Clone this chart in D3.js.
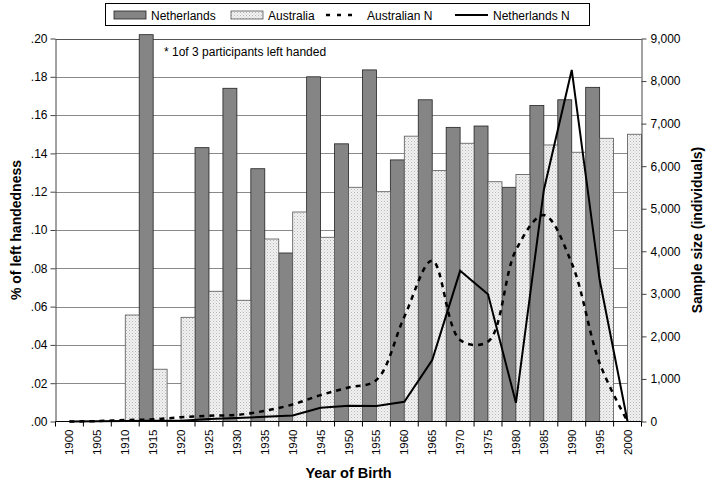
<!DOCTYPE html>
<html>
<head>
<meta charset="utf-8">
<script src="https://cdn.jsdelivr.net/npm/d3@7"></script>
<style>
  html, body { margin: 0; padding: 0; background: #fff; }
  svg { display: block; font-family: Arial, "Liberation Sans", sans-serif; }
</style>
</head>
<body>
<svg id="chart" width="712" height="485"></svg>
<script>
const years = [1900,1905,1910,1915,1920,1925,1930,1935,1940,1945,1950,1955,1960,1965,1970,1975,1980,1985,1990,1995,2000];
const netherlandsPct = [0,0,0,0.202,0,0.143,0.174,0.132,0.088,0.180,0.145,0.1836,0.1366,0.168,0.1536,0.1543,0.1223,0.165,0.168,0.1745,0];
const australiaPct = [0,0,0.0556,0.0273,0.0544,0.068,0.0633,0.0953,0.1094,0.0962,0.1223,0.120,0.149,0.131,0.1453,0.1252,0.129,0.1444,0.1406,0.1479,0.150];
const australianN = [0,10,35,50,100,136,155,250,400,620,800,975,2460,3780,1915,1880,4030,4850,3720,1370,0];
const netherlandsN = [0,5,10,15,20,60,80,110,140,325,370,365,465,1445,3540,2990,440,5440,8260,3330,0];
const leftTicks = [0,0.02,0.04,0.06,0.08,0.10,0.12,0.14,0.16,0.18,0.20];
const rightTicks = [0,1000,2000,3000,4000,5000,6000,7000,8000,9000];
const seriesNames = ["Netherlands","Australia","Australian N","Netherlands N"];
const note = "* 1of 3 participants left handed";

const svg = d3.select("#chart");
const L = 55.5, R = 641.5, T = 38.5, B = 421.5;

const defs = svg.append("defs");
const pat = defs.append("pattern").attr("id","dots").attr("patternUnits","userSpaceOnUse")
  .attr("width",3).attr("height",3);
pat.append("rect").attr("width",3).attr("height",3).attr("fill","#f1f1f1");
pat.append("rect").attr("x",0).attr("y",0).attr("width",1).attr("height",1).attr("fill","#b8b8b8");
pat.append("rect").attr("x",1.5).attr("y",1.5).attr("width",1).attr("height",1).attr("fill","#cfcfcf");

const x = d3.scaleBand().domain(years).range([L,R]).padding(0);
const bw = x.bandwidth();
const yL = d3.scaleLinear().domain([0,0.2]).range([B,T]);
const yR = d3.scaleLinear().domain([0,9000]).range([B,T]);

// gridlines
svg.append("g").selectAll("line").data(leftTicks.filter(d=>d>0)).join("line")
  .attr("x1",L).attr("x2",R)
  .attr("y1",d=>Math.round(yL(d))+0.5).attr("y2",d=>Math.round(yL(d))+0.5)
  .attr("stroke",d=>d===0.2?"#555":"#8a8a8a").attr("stroke-width",1);

// bars
const data = years.map((y,i)=>({year:y,nl:netherlandsPct[i],au:australiaPct[i]}));
svg.append("g").selectAll("rect").data(data.filter(d=>d.nl>0)).join("rect")
  .attr("x",d=>x(d.year)).attr("width",bw/2)
  .attr("y",d=>yL(d.nl)).attr("height",d=>B-yL(d.nl))
  .attr("fill","#858585").attr("stroke","#222").attr("stroke-width",0.8);
svg.append("g").selectAll("rect").data(data.filter(d=>d.au>0)).join("rect")
  .attr("x",d=>x(d.year)+bw/2).attr("width",bw/2)
  .attr("y",d=>yL(d.au)).attr("height",d=>B-yL(d.au))
  .attr("fill","url(#dots)").attr("stroke","#555").attr("stroke-width",0.8);

// lines
const cx = d=>x(d.year)+bw/2;
const lineData = years.map((y,i)=>({year:y,au:australianN[i],nl:netherlandsN[i]}));
svg.append("path").datum(lineData)
  .attr("d", d3.line().x(cx).y(d=>yR(d.au)).curve(d3.curveCatmullRom.alpha(0.5)))
  .attr("fill","none").attr("stroke","#000").attr("stroke-width",2.5).attr("stroke-dasharray","5,5");
svg.append("path").datum(lineData)
  .attr("d", d3.line().x(cx).y(d=>yR(d.nl)))
  .attr("fill","none").attr("stroke","#000").attr("stroke-width",2);

// axes
const fmtL = d=>d3.format(".2f")(d).replace(/^0/,"");
const gL = svg.append("g").attr("transform",`translate(${L},0)`)
  .call(d3.axisLeft(yL).tickValues(leftTicks).tickFormat(fmtL).tickSize(5).tickSizeOuter(0).tickPadding(3));
const gR = svg.append("g").attr("transform",`translate(${R},0)`)
  .call(d3.axisRight(yR).tickValues(rightTicks).tickFormat(d3.format(",")).tickSize(5).tickSizeOuter(0).tickPadding(4));
[gL,gR].forEach(g=>{
  g.select(".domain").attr("stroke","#444");
  g.selectAll(".tick line").attr("stroke","#444");
  g.selectAll("text").attr("font-size",12).attr("fill","#000")
    .attr("font-family","Arial, 'Liberation Sans', sans-serif");
});

// bottom axis: line + ticks at band boundaries + labels
const gB = svg.append("g");
gB.append("line").attr("x1",L).attr("x2",R).attr("y1",B).attr("y2",B).attr("stroke","#000").attr("stroke-width",1);
const bounds = years.map(y=>x(y)).concat([R]);
gB.selectAll("line.t").data(bounds).join("line").attr("class","t")
  .attr("x1",d=>d).attr("x2",d=>d).attr("y1",B).attr("y2",B+5).attr("stroke","#000");
gB.selectAll("text").data(years).join("text")
  .attr("transform",d=>`translate(${x(d)+bw/2+4},${B+8}) rotate(-90)`)
  .attr("text-anchor","end").attr("font-size",11.5).text(d=>d);

// titles
svg.append("text").attr("transform",`translate(21,${(T+B)/2}) rotate(-90)`)
  .attr("text-anchor","middle").attr("font-weight","bold").attr("font-size",14)
  .text("% of left handedness");
svg.append("text").attr("transform",`translate(702,${(T+B)/2}) rotate(-90)`)
  .attr("text-anchor","middle").attr("font-weight","bold").attr("font-size",14)
  .text("Sample size (individuals)");
svg.append("text").attr("x",(L+R)/2).attr("y",478)
  .attr("text-anchor","middle").attr("font-weight","bold").attr("font-size",14.5)
  .text("Year of Birth");

// note
svg.append("text").attr("x",164).attr("y",56).attr("font-size",12).text(note);

// legend
const lg = svg.append("g");
lg.append("rect").attr("x",105.5).attr("y",3.5).attr("width",484).attr("height",22)
  .attr("fill","#fff").attr("stroke","#000").attr("stroke-width",1);
const ly = 15;
lg.append("rect").attr("x",114).attr("y",ly-4).attr("width",32).attr("height",8)
  .attr("fill","#858585").attr("stroke","#222").attr("stroke-width",0.8);
lg.append("text").attr("x",151).attr("y",ly+4.5).attr("font-size",12).text(seriesNames[0]);
lg.append("rect").attr("x",231).attr("y",ly-4).attr("width",32).attr("height",8)
  .attr("fill","url(#dots)").attr("stroke","#555").attr("stroke-width",0.8);
lg.append("text").attr("x",268).attr("y",ly+4.5).attr("font-size",12).text(seriesNames[1]);
lg.append("line").attr("x1",326).attr("x2",358).attr("y1",ly).attr("y2",ly)
  .attr("stroke","#000").attr("stroke-width",2.5).attr("stroke-dasharray","4,7");
lg.append("text").attr("x",367).attr("y",ly+4.5).attr("font-size",12).text(seriesNames[2]);
lg.append("line").attr("x1",455).attr("x2",488).attr("y1",ly).attr("y2",ly)
  .attr("stroke","#000").attr("stroke-width",2);
lg.append("text").attr("x",493).attr("y",ly+4.5).attr("font-size",12).text(seriesNames[3]);
</script>
</body>
</html>
